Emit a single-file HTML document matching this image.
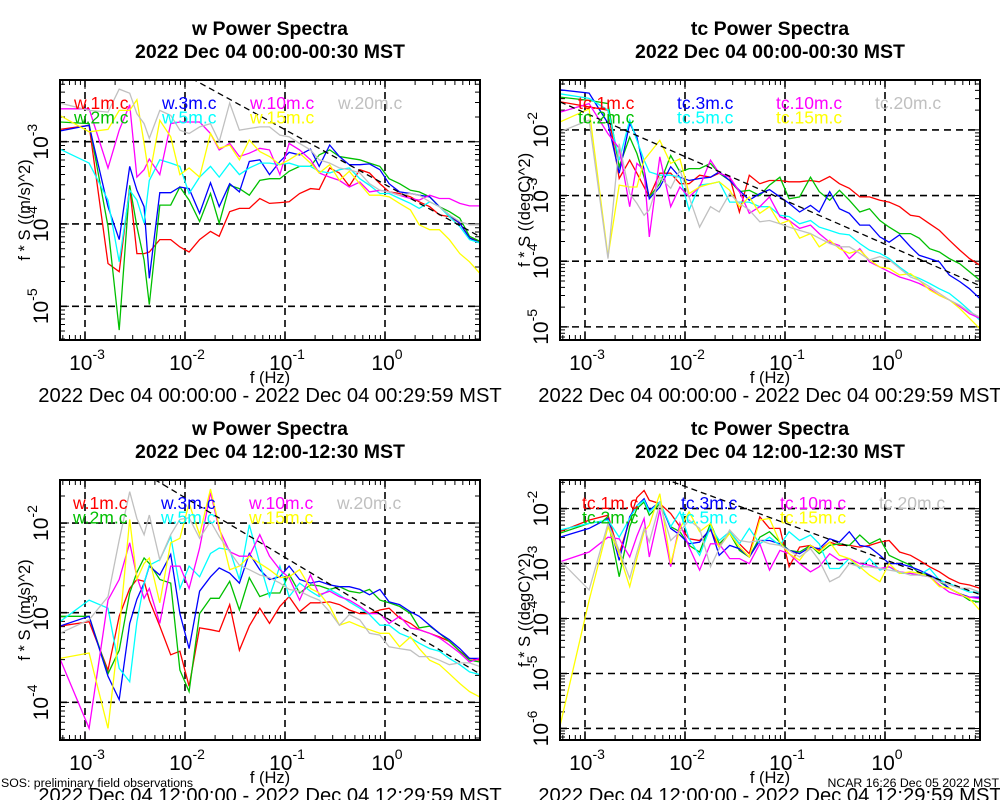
<!DOCTYPE html>
<html><head><meta charset="utf-8"><style>
html,body{margin:0;padding:0;background:#fff;}
svg{display:block;font-family:"Liberation Sans",sans-serif;}
</style></head><body>
<svg id="chart" width="1000" height="800" viewBox="0 0 1000 800" xmlns="http://www.w3.org/2000/svg">
<rect x="0" y="0" width="1000" height="800" fill="#fff"/>
<text x="1" y="787" font-size="12.3">SOS: preliminary field observations</text>
<text x="999" y="787" font-size="12.3" text-anchor="end">NCAR 16:26 Dec 05 2022 MST</text>
</svg>
<script>
// shared frequency grid (Hz)
const freqs = [0.00056,0.0011,0.0017,0.0022,0.0028,0.0033,0.0039,0.0044,0.0056,0.0072,0.0089,0.011,0.014,0.018,0.022,0.028,0.035,0.044,0.056,0.07,0.089,0.11,0.14,0.18,0.22,0.28,0.35,0.44,0.56,0.7,0.89,1.1,1.4,1.8,2.2,2.8,3.5,4.4,5.6,7,8.9];
const xTickExps = [-3,-2,-1,0];
const seriesColors = ["#ff0000","#00c000","#0000ff","#00ffff","#ff00ff","#ffff00","#c0c0c0"];
const wNames = ["w.1m.c","w.2m.c","w.3m.c","w.5m.c","w.10m.c","w.15m.c","w.20m.c"];
const tcNames = ["tc.1m.c","tc.2m.c","tc.3m.c","tc.5m.c","tc.10m.c","tc.15m.c","tc.20m.c"];

// log10 of f*S values, top-left (w, 00:00)
const tlRed = [-2.85,-2.80,-4.48,-4.58,-3.55,-4.36,-4.36,-4.34,-4.19,-4.19,-4.28,-4.34,-4.19,-4.09,-4.15,-3.85,-3.81,-3.81,-3.69,-3.75,-3.74,-3.73,-3.63,-3.57,-3.58,-3.32,-3.38,-3.54,-3.34,-3.38,-3.51,-3.61,-3.63,-3.67,-3.73,-3.79,-3.89,-3.91,-3.99,-4.17,-4.21];
const tlGreen = [-2.76,-2.78,-4.03,-5.29,-3.53,-4.03,-4.44,-4.98,-3.77,-3.77,-3.55,-3.71,-3.97,-3.63,-3.99,-3.53,-3.57,-3.65,-3.47,-3.45,-3.45,-3.36,-3.30,-3.30,-3.16,-3.10,-3.18,-3.20,-3.22,-3.26,-3.30,-3.45,-3.51,-3.59,-3.61,-3.67,-3.79,-3.85,-3.93,-4.15,-4.21];
const tlBlue = [-2.87,-2.80,-3.79,-4.19,-3.30,-3.59,-3.79,-4.66,-3.62,-3.62,-3.55,-3.57,-3.87,-3.50,-3.79,-3.51,-3.61,-3.24,-3.22,-3.40,-3.24,-3.13,-3.16,-3.09,-3.30,-3.04,-3.18,-3.28,-3.28,-3.27,-3.34,-3.51,-3.61,-3.63,-3.65,-3.67,-3.79,-3.89,-3.99,-4.17,-4.23];
const tlCyan = [-3.09,-3.26,-3.71,-4.46,-3.59,-3.71,-3.99,-3.47,-3.22,-3.26,-3.30,-3.63,-3.43,-3.30,-3.43,-3.26,-3.40,-3.32,-3.26,-3.26,-3.28,-3.26,-3.30,-3.30,-3.36,-3.38,-3.34,-3.32,-3.45,-3.53,-3.63,-3.63,-3.69,-3.75,-3.81,-3.73,-3.79,-3.91,-4.03,-4.19,-4.23];
const tlMagenta = [-2.60,-2.60,-3.32,-2.86,-2.55,-3.43,-3.34,-3.21,-3.40,-2.78,-2.76,-2.76,-2.76,-2.90,-3.10,-3.02,-3.18,-3.14,-3.08,-3.10,-3.40,-3.02,-3.10,-3.22,-3.38,-3.43,-3.47,-3.55,-3.49,-3.61,-3.59,-3.61,-3.65,-3.69,-3.71,-3.65,-3.69,-3.69,-3.75,-3.78,-3.78];
const tlYellow = [-2.68,-2.88,-2.85,-2.62,-2.62,-2.49,-3.02,-3.43,-2.74,-2.94,-3.40,-3.32,-3.43,-2.90,-3.08,-3.04,-3.22,-2.98,-3.12,-3.18,-3.28,-3.22,-3.14,-3.26,-3.38,-3.28,-3.47,-3.36,-3.51,-3.65,-3.65,-3.67,-3.75,-3.83,-4.01,-4.07,-4.07,-4.19,-4.36,-4.46,-4.60];
const tlGray = [-2.53,-2.62,-2.64,-2.36,-2.41,-2.66,-2.78,-2.96,-2.62,-2.68,-2.86,-2.90,-2.82,-2.78,-3.00,-2.53,-2.86,-2.84,-2.82,-2.82,-2.92,-2.94,-3.02,-3.10,-3.22,-3.26,-3.32,-3.34,-3.38,-3.51,-3.59,-3.61,-3.65,-3.63,-3.65,-3.73,-3.79,-3.89,-3.97,-4.01,-4.01];

// top-right (tc, 00:00)
const trRed = [-1.57,-1.65,-1.70,-2.74,-2.46,-2.66,-2.87,-3.02,-2.66,-2.66,-2.82,-2.82,-2.69,-2.72,-2.66,-2.72,-3.25,-2.69,-2.82,-2.77,-2.77,-2.79,-2.79,-2.77,-2.79,-2.71,-2.82,-2.89,-3.02,-3.02,-3.07,-3.10,-3.17,-3.30,-3.32,-3.43,-3.53,-3.68,-3.83,-3.96,-4.06];
const trGreen = [-1.50,-1.55,-1.60,-2.56,-2.11,-2.36,-2.72,-3.02,-2.82,-2.39,-2.64,-2.59,-2.59,-2.51,-2.66,-2.77,-2.94,-2.92,-3.00,-2.84,-2.72,-3.05,-3.02,-2.72,-2.94,-3.07,-2.92,-3.07,-3.25,-3.20,-3.38,-3.48,-3.58,-3.58,-3.65,-3.81,-3.86,-3.96,-4.04,-4.16,-4.29];
const trBlue = [-1.39,-1.44,-1.90,-2.66,-1.90,-2.11,-2.61,-3.05,-2.87,-2.56,-2.72,-2.77,-2.74,-2.72,-2.64,-2.77,-2.92,-3.07,-2.97,-2.91,-3.02,-3.12,-3.25,-3.15,-3.25,-2.94,-3.20,-3.27,-3.45,-3.45,-3.63,-3.71,-3.60,-3.78,-3.91,-3.96,-4.01,-4.21,-4.31,-4.42,-4.57];
const trCyan = [-1.45,-1.52,-1.70,-2.46,-1.85,-2.16,-2.46,-2.64,-2.69,-2.69,-2.72,-3.22,-2.84,-2.82,-2.79,-3.10,-3.10,-3.10,-3.17,-3.17,-3.30,-3.32,-3.43,-3.38,-3.48,-3.53,-3.58,-3.60,-3.73,-3.83,-3.88,-3.96,-4.09,-4.21,-4.26,-4.34,-4.42,-4.49,-4.62,-4.75,-4.90];
const trMagenta = [-1.73,-1.60,-2.06,-2.28,-3.17,-2.51,-2.61,-3.63,-2.41,-3.17,-2.87,-3.02,-2.87,-2.46,-2.66,-2.72,-2.94,-3.27,-3.17,-3.02,-3.32,-3.38,-3.50,-3.45,-3.58,-3.71,-3.76,-3.96,-3.81,-4.01,-4.09,-4.16,-4.24,-4.29,-4.34,-4.42,-4.52,-4.59,-4.69,-4.80,-4.87];
const trYellow = [-1.88,-1.68,-3.93,-2.84,-2.87,-2.87,-2.46,-2.36,-2.16,-2.51,-2.44,-2.97,-2.87,-2.82,-2.79,-2.92,-3.17,-3.02,-3.27,-3.17,-3.43,-3.38,-3.65,-3.58,-3.78,-3.68,-3.81,-3.88,-3.83,-3.98,-4.09,-4.11,-4.21,-4.19,-4.29,-4.44,-4.52,-4.59,-4.72,-4.87,-5.03];
const trGray = [-2.03,-1.85,-3.96,-2.21,-2.97,-3.12,-3.30,-3.22,-2.72,-2.89,-2.61,-3.02,-3.48,-3.17,-3.25,-2.97,-3.12,-3.22,-3.40,-3.38,-3.43,-3.48,-3.53,-3.58,-3.65,-3.73,-3.78,-3.78,-3.88,-3.98,-3.93,-3.98,-4.11,-4.24,-4.29,-4.39,-4.49,-4.59,-4.67,-4.77,-4.85];

// bottom-left (w, 12:00)
const blRed = [-3.15,-3.10,-3.64,-3.04,-2.73,-2.63,-2.65,-2.86,-3.15,-3.47,-3.43,-3.82,-3.17,-3.19,-3.21,-2.91,-3.42,-3.15,-2.95,-3.12,-2.93,-2.82,-2.99,-2.89,-2.89,-2.88,-2.91,-2.97,-3.01,-3.01,-2.97,-2.95,-3.06,-3.12,-3.19,-3.23,-3.27,-3.32,-3.43,-3.51,-3.53];
const blGreen = [-3.04,-3.04,-3.68,-3.42,-2.78,-2.55,-2.39,-2.45,-2.63,-2.67,-3.64,-3.88,-3.01,-2.84,-2.84,-2.65,-2.97,-2.61,-2.82,-2.78,-2.78,-2.57,-2.78,-2.69,-2.70,-2.74,-2.71,-2.76,-2.78,-2.74,-2.86,-2.89,-2.93,-3.01,-3.17,-3.15,-3.23,-3.32,-3.43,-3.53,-3.55];
const blBlue = [-3.15,-3.04,-3.71,-3.97,-3.12,-2.85,-2.67,-2.48,-2.58,-2.35,-3.01,-3.40,-2.76,-2.60,-2.50,-2.56,-2.67,-2.34,-2.52,-2.63,-2.60,-2.48,-2.63,-2.67,-2.65,-2.69,-2.71,-2.71,-2.74,-2.80,-2.74,-2.88,-2.91,-2.99,-3.04,-3.14,-3.23,-3.30,-3.40,-3.51,-3.51];
const blCyan = [-3.10,-2.86,-2.95,-3.62,-3.77,-3.10,-2.67,-2.47,-2.41,-2.15,-2.73,-2.48,-2.60,-2.34,-2.28,-2.30,-2.63,-2.02,-2.45,-2.82,-2.48,-2.82,-2.67,-2.76,-2.82,-2.74,-2.80,-2.88,-2.95,-3.02,-3.14,-3.14,-3.23,-3.28,-3.34,-3.40,-3.43,-3.51,-3.58,-3.66,-3.69];
const blMagenta = [-3.51,-4.29,-2.86,-2.63,-2.22,-2.60,-2.84,-2.73,-3.12,-2.48,-2.48,-2.73,-2.28,-1.66,-2.07,-2.32,-2.37,-2.37,-2.13,-2.37,-2.52,-2.61,-2.86,-2.58,-2.80,-2.76,-2.82,-2.86,-2.93,-3.01,-3.01,-3.12,-3.04,-3.17,-3.19,-3.23,-3.28,-3.36,-3.45,-3.55,-3.51];
const blYellow = [-3.51,-3.45,-4.29,-3.20,-1.96,-2.63,-2.45,-2.39,-2.89,-2.22,-2.17,-1.78,-2.13,-1.62,-2.04,-2.52,-2.48,-2.37,-2.45,-2.52,-2.61,-2.60,-2.52,-2.73,-2.78,-2.93,-3.14,-3.10,-3.15,-3.19,-3.23,-3.23,-3.38,-3.27,-3.40,-3.53,-3.58,-3.68,-3.79,-3.88,-3.94];
const blGray = [-3.23,-3.08,-2.82,-2.19,-1.65,-1.95,-2.13,-1.91,-2.41,-2.13,-1.96,-1.94,-2.17,-1.98,-2.15,-2.32,-2.47,-2.52,-2.58,-2.61,-2.67,-2.74,-2.76,-2.82,-2.86,-2.99,-3.14,-3.02,-3.08,-3.23,-3.25,-3.38,-3.40,-3.42,-3.49,-3.49,-3.53,-3.58,-3.56,-3.56,-3.60];

// bottom-right (tc, 12:00)
const brRed = [-2.42,-2.21,-2.12,-2.82,-2.21,-1.80,-1.67,-1.85,-1.91,-2.09,-2.33,-2.55,-2.58,-2.39,-2.70,-2.42,-2.64,-2.82,-2.15,-2.36,-2.36,-3.06,-2.70,-2.67,-2.76,-2.61,-2.67,-2.67,-2.70,-2.67,-2.61,-2.58,-2.79,-2.85,-2.94,-3.06,-3.15,-3.27,-3.36,-3.39,-3.45];
const brGreen = [-2.45,-2.27,-2.21,-3.24,-2.33,-2.00,-1.88,-2.12,-1.91,-2.33,-2.42,-2.67,-2.79,-2.27,-2.64,-2.45,-2.76,-2.88,-2.52,-2.42,-2.61,-2.76,-2.79,-2.67,-2.82,-2.67,-2.64,-2.67,-2.48,-2.64,-2.55,-2.85,-2.94,-3.03,-3.18,-3.21,-3.33,-3.45,-3.55,-3.67,-3.70];
const brBlue = [-2.52,-2.36,-2.18,-2.94,-2.15,-1.95,-1.82,-2.03,-1.88,-2.36,-2.48,-2.64,-2.61,-2.36,-2.85,-2.67,-2.73,-2.88,-2.58,-2.58,-2.64,-2.76,-2.82,-2.70,-2.73,-2.55,-2.61,-2.42,-2.67,-2.70,-2.85,-3.00,-3.00,-3.06,-3.12,-3.21,-3.30,-3.45,-3.55,-3.61,-3.61];
const brCyan = [-2.39,-2.27,-2.21,-2.52,-2.18,-1.95,-1.85,-2.06,-1.88,-2.33,-2.06,-2.55,-2.85,-2.33,-2.58,-2.42,-2.64,-2.36,-2.64,-2.52,-2.67,-2.42,-2.58,-2.48,-2.64,-3.09,-3.09,-2.91,-3.09,-2.91,-3.12,-3.06,-3.18,-3.18,-3.21,-3.09,-3.30,-3.36,-3.45,-3.52,-3.52];
const brMagenta = [-2.97,-2.79,-2.52,-2.55,-2.88,-2.50,-2.18,-2.88,-2.03,-3.06,-2.27,-2.70,-3.12,-2.64,-2.64,-2.91,-2.91,-3.00,-2.64,-3.12,-2.76,-2.82,-3.00,-3.15,-3.06,-2.82,-2.94,-2.91,-3.00,-3.03,-3.09,-3.06,-3.15,-3.18,-3.21,-3.24,-3.39,-3.52,-3.58,-3.61,-3.64];
const brYellow = [-5.97,-3.67,-2.33,-2.82,-3.42,-2.90,-2.42,-2.30,-1.73,-3.00,-2.36,-2.06,-2.42,-2.27,-2.70,-2.45,-2.70,-2.88,-2.21,-2.18,-2.61,-2.82,-2.94,-2.67,-2.79,-2.61,-2.85,-2.91,-3.06,-3.21,-3.33,-3.00,-3.18,-3.15,-3.18,-3.24,-3.42,-3.45,-3.55,-3.64,-3.85];
const brGray = [-2.94,-3.48,-2.27,-2.76,-3.27,-2.80,-2.36,-2.61,-1.91,-2.58,-2.42,-2.21,-2.36,-3.06,-2.73,-2.39,-2.58,-2.61,-2.58,-2.64,-2.67,-2.76,-2.88,-2.73,-2.94,-3.33,-3.24,-3.00,-3.06,-3.06,-3.09,-3.12,-3.15,-3.21,-3.21,-3.24,-3.33,-3.39,-3.45,-3.45,-3.52];

// reference -2/3 slope line: log10 value at f=1 Hz
const refIntercepts = [-3.52,-3.74,-3.05,-2.93];
const refSlope = -2/3;

const NS = "http://www.w3.org/2000/svg";
const svg = document.getElementById("chart");
function mk(tag, attrs, parent){
  const e = document.createElementNS(NS, tag);
  for (const k in attrs) e.setAttribute(k, attrs[k]);
  (parent||svg).appendChild(e);
  return e;
}

const panels = [
  {id:"tl", x0:60, y0:80, title:"w Power Spectra", sub:"2022 Dec 04 00:00-00:30 MST", date:"2022 Dec 04 00:00:00 - 2022 Dec 04 00:29:59 MST", ylab:"f * S ((m/s)^2)", yTop:-2.25, yBot:-5.41, yTicks:[-3,-4,-5], names:wNames, data:[tlRed,tlGreen,tlBlue,tlCyan,tlMagenta,tlYellow,tlGray], legX:[74,162,250,338]},
  {id:"tr", x0:560, y0:80, title:"tc Power Spectra", sub:"2022 Dec 04 00:00-00:30 MST", date:"2022 Dec 04 00:00:00 - 2022 Dec 04 00:29:59 MST", ylab:"f * S ((degC)^2)", yTop:-1.24, yBot:-5.20, yTicks:[-2,-3,-4,-5], names:tcNames, data:[trRed,trGreen,trBlue,trCyan,trMagenta,trYellow,trGray], legX:[578,677,776,875]},
  {id:"bl", x0:60, y0:480, title:"w Power Spectra", sub:"2022 Dec 04 12:00-12:30 MST", date:"2022 Dec 04 12:00:00 - 2022 Dec 04 12:29:59 MST", ylab:"f * S ((m/s)^2)", yTop:-1.52, yBot:-4.42, yTicks:[-2,-3,-4], names:wNames, data:[blRed,blGreen,blBlue,blCyan,blMagenta,blYellow,blGray], legX:[73,161,249,337]},
  {id:"br", x0:560, y0:480, title:"tc Power Spectra", sub:"2022 Dec 04 12:00-12:30 MST", date:"2022 Dec 04 12:00:00 - 2022 Dec 04 12:29:59 MST", ylab:"f * S ((degC)^2)", yTop:-1.48, yBot:-6.21, yTicks:[-2,-3,-4,-5,-6], names:tcNames, data:[brRed,brGreen,brBlue,brCyan,brMagenta,brYellow,brGray], legX:[582,681,780,879]}
];
const W = 420, H = 260, XMIN = -3.25, XMAX = 0.95;

panels.forEach((p, pi) => {
  const g = mk("g", {});
  
  
  const sx = lf => p.x0 + (lf - XMIN) / (XMAX - XMIN) * W;
  const sy = lv => p.y0 + (p.yTop - lv) / (p.yTop - p.yBot) * H;
  const cx = p.x0 + W/2;

  const t1 = mk("text", {x:cx, y:p.y0-45, "font-size":19.5, "font-weight":"bold", "text-anchor":"middle"}, g);
  t1.textContent = p.title;
  
  
  const t2 = mk("text", {x:cx, y:p.y0-22, "font-size":19.5, "font-weight":"bold", "text-anchor":"middle"}, g);
  t2.textContent = p.sub;
  
  

  const cid = "clip" + pi;
  const cp = mk("clipPath", {id:cid}, g);
  mk("rect", {x:p.x0, y:p.y0, width:W, height:H}, cp);

  xTickExps.forEach(e => {
    const gl = mk("line", {x1:sx(e), x2:sx(e), y1:p.y0, y2:p.y0+H, stroke:"#000", "stroke-width":1.6, "stroke-dasharray":"7,5"}, g);
    
    
  });
  p.yTicks.forEach(e => {
    const gl = mk("line", {x1:p.x0, x2:p.x0+W, y1:sy(e), y2:sy(e), stroke:"#000", "stroke-width":1.6, "stroke-dasharray":"7,5"}, g);
    
    
  });

  let tk = "";
  for (let d = -4; d <= 1; d++) for (let m = 1; m <= 9; m++) {
    const lf = d + Math.log10(m);
    if (lf < XMIN || lf > XMAX) continue;
    const x = sx(lf), L = m === 1 ? 9 : 5;
    tk += `M${x},${p.y0}v${L}M${x},${p.y0+H}v${-L}`;
  }
  for (let d = -7; d <= 0; d++) for (let m = 1; m <= 9; m++) {
    const lv = d + Math.log10(m);
    if (lv > p.yTop || lv < p.yBot) continue;
    const y = sy(lv), L = m === 1 ? 9 : 5;
    tk += `M${p.x0},${y}h${L}M${p.x0+W},${y}h${-L}`;
  }
  const ticks = mk("path", {d:tk, stroke:"#000", "stroke-width":1, fill:"none"}, g);
  
  

  p.data.forEach((vals, si) => {
    const d = vals.map((v, i) => (i ? "L" : "M") + sx(Math.log10(freqs[i])).toFixed(1) + "," + sy(v).toFixed(1)).join("");
    const path = mk("path", {d:d, fill:"none", stroke:seriesColors[si], "stroke-width":1.3, "clip-path":`url(#${cid})`}, g);
    
    
  });

  const r = refIntercepts[pi];
  const rl = mk("line", {x1:sx(XMIN), y1:sy(r + refSlope*XMIN), x2:sx(XMAX), y2:sy(r + refSlope*XMAX), stroke:"#000", "stroke-width":1.3, "stroke-dasharray":"6,4", "clip-path":`url(#${cid})`}, g);
  
  

  const fr = mk("rect", {x:p.x0, y:p.y0, width:W, height:H, fill:"none", stroke:"#000", "stroke-width":2}, g);
  
  

  p.names.forEach((n, si) => {
    const col = si === 6 ? 3 : Math.floor(si/2);
    const row = si === 6 ? 0 : si % 2;
    const lt = mk("text", {x:p.legX[col], y:p.y0+29+row*14.5, "font-size":17.5, fill:seriesColors[si]}, g);
    lt.textContent = n;
    
    
  });

  xTickExps.forEach(e => {
    const lt = mk("text", {x:sx(e)+2, y:p.y0+H+30, "font-size":21, "text-anchor":"middle"}, g);
    
    
    const a = mk("tspan", {}, lt); a.textContent = "10";
    const b = mk("tspan", {dy:-11, "font-size":14}, lt); b.textContent = String(e);
  });
  const xl = mk("text", {x:cx, y:p.y0+H+43, "font-size":16.5, "text-anchor":"middle"}, g);
  xl.textContent = "f (Hz)";
  
  
  const dl = mk("text", {x:cx, y:p.y0+H+62, "font-size":20.2, "text-anchor":"middle"}, g);
  dl.textContent = p.date;
  
  

  p.yTicks.forEach(e => {
    const y = sy(e);
    const lt = mk("text", {x:0, y:0, "font-size":21, "text-anchor":"middle", transform:`translate(${p.x0-12},${y}) rotate(-90)`}, g);
    
    
    const a = mk("tspan", {}, lt); a.textContent = "10";
    const b = mk("tspan", {dy:-11, "font-size":14}, lt); b.textContent = String(e);
  });
  const yl = mk("text", {x:0, y:0, "font-size":16.5, "text-anchor":"middle", transform:`translate(${p.x0-30},${p.y0+H/2}) rotate(-90)`}, g);
  yl.textContent = p.ylab;
  
  
});
</script>
</body></html>
